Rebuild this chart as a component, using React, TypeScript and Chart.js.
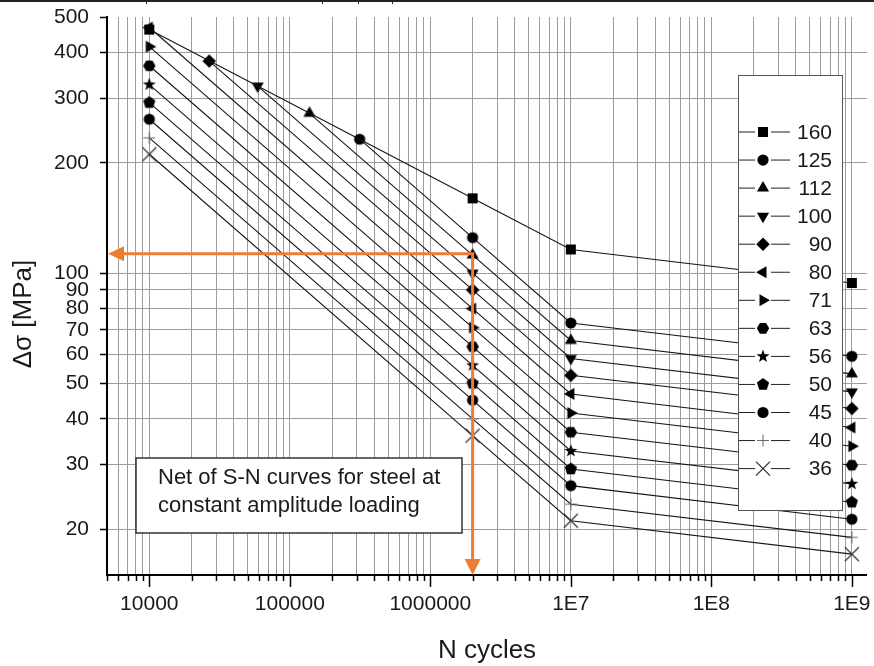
import React, { useEffect, useRef } from 'react';
import { Chart, registerables } from 'chart.js';

Chart.register(...registerables);

// ---------- data ----------
const categories = ['160', '125', '112', '100', '90', '80', '71', '63', '56', '50', '45', '40', '36'];
const markerStyles = ['square', 'circle', 'triangle', 'triangleDown', 'diamond', 'triangleLeft', 'triangleRight', 'hexagon', 'star', 'pentagon', 'circle', 'plus', 'cross'];

const nStd = [1e4, 2e6, 1e7, 1e9];
const n125 = [3.14e5, 2e6, 1e7, 1e9];
const n112 = [1.38e5, 2e6, 1e7, 1e9];
const n100 = [5.9e4, 2e6, 1e7, 1e9];
const n90 = [2.67e4, 2e6, 1e7, 1e9];

const s160 = [462, 160, 116, 94];
const s125 = [232, 125, 73.1, 59.3];
const s112 = [273, 112, 65.5, 53.1];
const s100 = [324, 100, 58.5, 47.4];
const s90 = [379, 90, 52.6, 42.7];
const s80 = [468, 80, 46.8, 37.9];
const s71 = [415, 71, 41.5, 33.7];
const s63 = [368, 63, 36.8, 29.9];
const s56 = [327, 56, 32.7, 26.6];
const s50 = [292, 50, 29.2, 23.7];
const s45 = [263, 45, 26.3, 21.3];
const s40 = [234, 40, 23.4, 19.0];
const s36 = [211, 36, 21.1, 17.1];

const seriesN = [nStd, n125, n112, n100, n90, nStd, nStd, nStd, nStd, nStd, nStd, nStd, nStd];
const seriesS = [s160, s125, s112, s100, s90, s80, s71, s63, s56, s50, s45, s40, s36];

const xMajorTicks = [1e4, 1e5, 1e6, 1e7, 1e8, 1e9];
const xTickLabels = ['10000', '100000', '1000000', '1E7', '1E8', '1E9'];
const yTickValues = [20, 30, 40, 50, 60, 70, 80, 90, 100, 200, 300, 400, 500];
const yTickLabels = ['20', '30', '40', '50', '60', '70', '80', '90', '100', '200', '300', '400', '500'];

const arrowN = 2e6;
const arrowS = 113;

const noteLines = ['Net of S-N curves for steel at', 'constant amplitude loading'];
const xTitle = 'N cycles';
const yTitle = 'Δσ [MPa]';

const FONT = "'Liberation Sans', Arial, Helvetica, sans-serif";
const ORANGE = '#ED7D31';
const GRID = '#9c9c9c';

// grid positions (1..9 x each decade) inside the axis range
const xGridValues: number[] = [];
for (let d = 1e3; d <= 1e9; d *= 10) {
  for (let k = 1; k <= 9; k++) {
    const v = Math.round(d * k);
    if (v >= 5000 && v <= 1e9) xGridValues.push(v);
  }
}

function drawMarker(ctx: CanvasRenderingContext2D, style: string, cx: number, cy: number) {
  ctx.save();
  ctx.fillStyle = '#000';
  ctx.strokeStyle = '#000';
  const poly = (n: number, r: number, rot: number) => {
    ctx.beginPath();
    for (let i = 0; i < n; i++) {
      const a = rot + (i * 2 * Math.PI) / n;
      const x = cx + r * Math.cos(a);
      const y = cy + r * Math.sin(a);
      if (i === 0) ctx.moveTo(x, y);
      else ctx.lineTo(x, y);
    }
    ctx.closePath();
    ctx.fill();
  };
  switch (style) {
    case 'square':
      ctx.fillRect(cx - 5, cy - 5, 10, 10);
      break;
    case 'circle':
      ctx.beginPath();
      ctx.arc(cx, cy, 5.6, 0, Math.PI * 2);
      ctx.fill();
      break;
    case 'triangle':
      poly(3, 7, -Math.PI / 2);
      break;
    case 'triangleDown':
      poly(3, 7, Math.PI / 2);
      break;
    case 'triangleLeft':
      poly(3, 7, Math.PI);
      break;
    case 'triangleRight':
      poly(3, 7, 0);
      break;
    case 'diamond':
      poly(4, 6.8, -Math.PI / 2);
      break;
    case 'hexagon':
      poly(6, 6.2, 0);
      break;
    case 'pentagon':
      poly(5, 6.4, -Math.PI / 2);
      break;
    case 'star': {
      ctx.beginPath();
      for (let i = 0; i < 10; i++) {
        const r = i % 2 === 0 ? 6.8 : 2.8;
        const a = -Math.PI / 2 + (i * Math.PI) / 5;
        const x = cx + r * Math.cos(a);
        const y = cy + r * Math.sin(a);
        if (i === 0) ctx.moveTo(x, y);
        else ctx.lineTo(x, y);
      }
      ctx.closePath();
      ctx.fill();
      break;
    }
    case 'plus':
      ctx.strokeStyle = '#666';
      ctx.lineWidth = 1;
      ctx.beginPath();
      ctx.moveTo(cx - 6, cy);
      ctx.lineTo(cx + 6, cy);
      ctx.moveTo(cx, cy - 6);
      ctx.lineTo(cx, cy + 6);
      ctx.stroke();
      break;
    case 'cross':
      ctx.strokeStyle = '#333';
      ctx.lineWidth = 1.3;
      ctx.beginPath();
      ctx.moveTo(cx - 7, cy - 7);
      ctx.lineTo(cx + 7, cy + 7);
      ctx.moveTo(cx + 7, cy - 7);
      ctx.lineTo(cx - 7, cy + 7);
      ctx.stroke();
      break;
  }
  ctx.restore();
}

function makeMarkerCanvas(style: string): HTMLCanvasElement {
  const c = document.createElement('canvas');
  c.width = 18;
  c.height = 18;
  const ctx = c.getContext('2d')!;
  drawMarker(ctx, style, 9, 9);
  return c;
}

export default function App() {
  const ref = useRef<HTMLCanvasElement>(null);

  useEffect(() => {
    const canvas = ref.current;
    if (!canvas) return;
    const markerImgs = markerStyles.map((s) => makeMarkerCanvas(s));

    const datasets = categories.map((cat, i) => ({
      label: cat,
      data: seriesN[i].map((n, j) => ({ x: n, y: seriesS[i][j] })),
      showLine: true,
      borderColor: '#151515',
      borderWidth: 1.1,
      pointStyle: markerImgs[i] as any,
      pointRadius: 6,
      pointHoverRadius: 6,
      pointBackgroundColor: '#000',
      pointBorderColor: '#000',
      fill: false,
      tension: 0,
    }));

    const overlay = {
      id: 'overlay',
      afterDatasetsDraw(chart: any) {
        const ctx: CanvasRenderingContext2D = chart.ctx;
        ctx.save();
        // note box
        ctx.fillStyle = '#fff';
        ctx.fillRect(136, 458, 326, 75);
        ctx.strokeStyle = '#333';
        ctx.lineWidth = 1.5;
        ctx.strokeRect(136, 458, 326, 75);
        ctx.fillStyle = '#1a1a1a';
        ctx.font = `22px ${FONT}`;
        ctx.textAlign = 'left';
        ctx.textBaseline = 'middle';
        noteLines.forEach((t, i) => ctx.fillText(t, 158, 478 + i * 28));

        // legend box
        ctx.fillStyle = '#fff';
        ctx.fillRect(738, 75, 104, 435);
        ctx.strokeStyle = '#555';
        ctx.lineWidth = 1;
        ctx.strokeRect(738.5, 75.5, 104, 435);
        categories.forEach((cat, i) => {
          const y = 132 + i * 28.05;
          ctx.strokeStyle = '#222';
          ctx.lineWidth = 1;
          ctx.beginPath();
          ctx.moveTo(739, y);
          ctx.lineTo(755, y);
          ctx.moveTo(771, y);
          ctx.lineTo(790, y);
          ctx.stroke();
          drawMarker(ctx, markerStyles[i], 763, y);
          ctx.fillStyle = '#1a1a1a';
          ctx.font = `21px ${FONT}`;
          ctx.textAlign = 'right';
          ctx.textBaseline = 'middle';
          ctx.fillText(cat, 832, y + 1);
        });
        ctx.restore();
      },
      afterDraw(chart: any) {
        const ctx: CanvasRenderingContext2D = chart.ctx;
        const xs = chart.scales.x;
        const ys = chart.scales.y;
        const area = chart.chartArea;
        ctx.save();
        // x tick marks
        ctx.strokeStyle = '#000';
        ctx.lineWidth = 1.5;
        xGridValues.forEach((v) => {
          const px = Math.round(xs.getPixelForValue(v)) + 0.5;
          const len = xMajorTicks.includes(v) ? 12 : 6;
          ctx.beginPath();
          ctx.moveTo(px, area.bottom);
          ctx.lineTo(px, area.bottom + len);
          ctx.stroke();
        });

        // axis titles
        ctx.fillStyle = '#1a1a1a';
        ctx.font = `26px ${FONT}`;
        ctx.textAlign = 'center';
        ctx.textBaseline = 'middle';
        ctx.fillText(xTitle, 487, 651);
        ctx.save();
        ctx.translate(24, 314);
        ctx.rotate(-Math.PI / 2);
        ctx.fillText(yTitle, 0, 0);
        ctx.restore();

        // orange arrows
        const ax = xs.getPixelForValue(arrowN);
        const ay = ys.getPixelForValue(arrowS);
        const left = area.left + 1;
        const bottom = area.bottom;
        ctx.strokeStyle = ORANGE;
        ctx.fillStyle = ORANGE;
        ctx.lineWidth = 3;
        ctx.beginPath();
        ctx.moveTo(ax + 1.5, ay);
        ctx.lineTo(left + 14, ay);
        ctx.moveTo(ax, ay);
        ctx.lineTo(ax, bottom - 14);
        ctx.stroke();
        ctx.beginPath();
        ctx.moveTo(left, ay);
        ctx.lineTo(left + 16, ay - 7.5);
        ctx.lineTo(left + 16, ay + 7.5);
        ctx.closePath();
        ctx.fill();
        ctx.beginPath();
        ctx.moveTo(ax, bottom);
        ctx.lineTo(ax - 8, bottom - 16);
        ctx.lineTo(ax + 8, bottom - 16);
        ctx.closePath();
        ctx.fill();

        // cropped table border at top
        ctx.strokeStyle = '#222';
        ctx.lineWidth = 2;
        ctx.beginPath();
        ctx.moveTo(0, 1);
        ctx.lineTo(874, 1);
        ctx.stroke();
        ctx.lineWidth = 1;
        [146, 322, 358, 392].forEach((x) => {
          ctx.beginPath();
          ctx.moveTo(x + 0.5, 1);
          ctx.lineTo(x + 0.5, 4);
          ctx.stroke();
        });
        ctx.restore();
      },
    };

    const chart = new Chart(canvas, {
      type: 'scatter',
      data: { datasets: datasets as any },
      options: {
        responsive: false,
        animation: false,
        devicePixelRatio: 1,
        events: [],
        layout: { padding: { top: 17, right: 4, left: 0, bottom: 0 } },
        plugins: {
          legend: { display: false },
          tooltip: { enabled: false },
        },
        scales: {
          x: {
            type: 'logarithmic',
            min: 5000,
            max: 1.28e9,
            afterBuildTicks: (scale: any) => {
              scale.ticks = xGridValues.map((v) => ({ value: v, major: xMajorTicks.includes(v) }));
            },
            afterFit: (scale: any) => {
              scale.height = 91;
              scale.paddingLeft = 0;
              scale.paddingRight = 0;
            },
            ticks: {
              autoSkip: false,
              maxRotation: 0,
              minRotation: 0,
              padding: 17,
              color: '#1a1a1a',
              font: { family: FONT, size: 21 },
              callback: (v: any) => {
                const idx = xMajorTicks.indexOf(Number(v));
                return idx >= 0 ? xTickLabels[idx] : '';
              },
            },
            grid: {
              color: GRID,
              lineWidth: 1,
              drawTicks: false,
            },
            border: { color: '#000', width: 2 },
          },
          y: {
            type: 'logarithmic',
            min: 15,
            max: 500,
            afterBuildTicks: (scale: any) => {
              scale.ticks = yTickValues.map((v) => ({ value: v }));
            },
            afterFit: (scale: any) => {
              scale.width = 107;
              scale.paddingTop = 0;
              scale.paddingBottom = 0;
            },
            ticks: {
              autoSkip: false,
              padding: 11,
              color: '#1a1a1a',
              font: { family: FONT, size: 21 },
              callback: (v: any) => {
                const idx = yTickValues.indexOf(Number(v));
                return idx >= 0 ? yTickLabels[idx] : '';
              },
            },
            grid: {
              color: (c: any) => (c.tick && c.tick.value === 500 ? 'rgba(0,0,0,0)' : GRID),
              lineWidth: 1,
              tickLength: 7,
              tickColor: '#000',
              tickWidth: 1.5,
            },
            border: { color: '#000', width: 2 },
          },
        },
      } as any,
      plugins: [overlay],
    });

    return () => chart.destroy();
  }, []);

  return (
    <div style={{ position: 'absolute', left: 0, top: 0, width: 874, height: 666, background: '#fff' }}>
      <canvas ref={ref} width={874} height={666} style={{ display: 'block', width: 874, height: 666 }} />
    </div>
  );
}
